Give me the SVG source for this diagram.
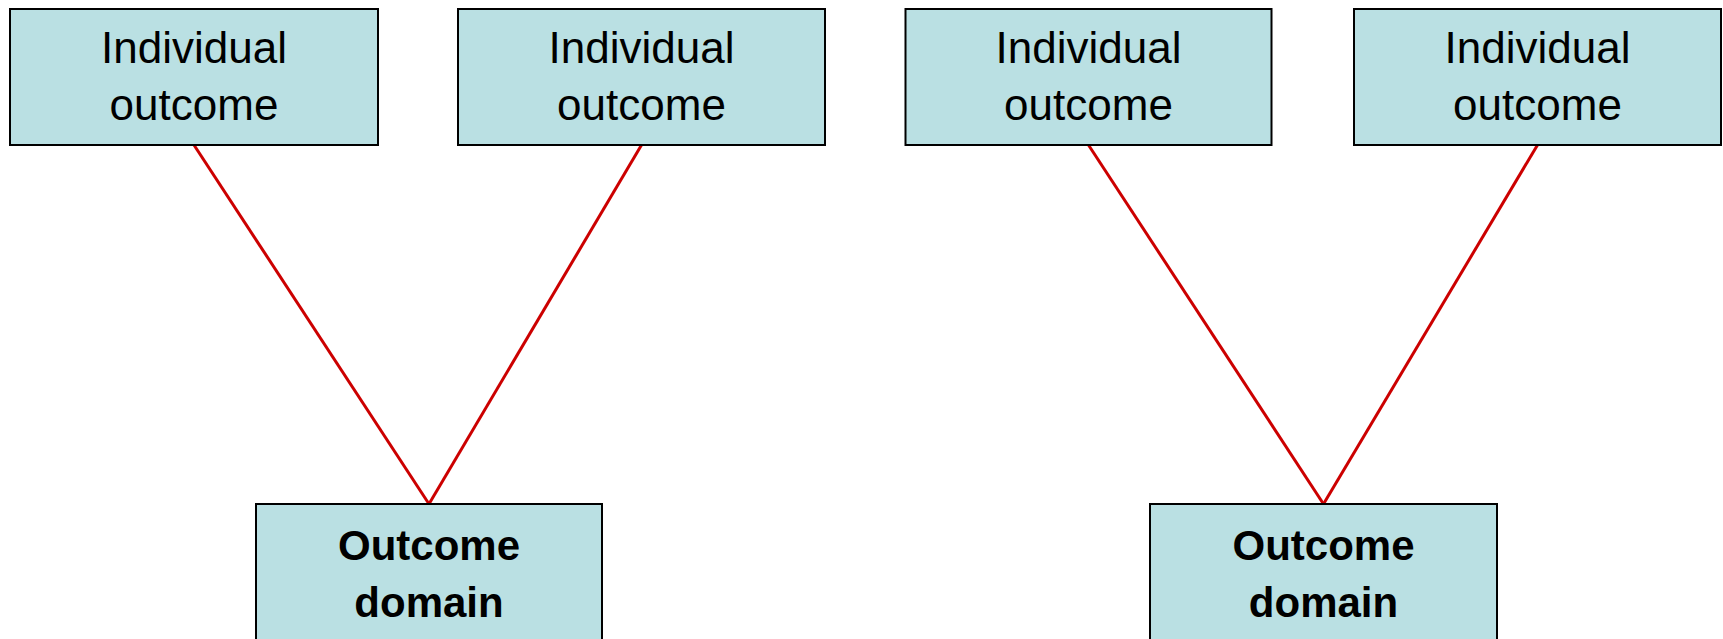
<svg xmlns="http://www.w3.org/2000/svg" width="1723" height="639" viewBox="0 0 1723 639">
<style>
.box{fill:#BAE0E3;stroke:#000;stroke-width:2}
.t{font-family:"Liberation Sans",Arial,sans-serif;font-size:44px;fill:#000;text-anchor:middle}
.b{font-weight:bold;font-size:42px}
.c{stroke:#CC0000;stroke-width:3;fill:none}
</style>
<rect width="1723" height="639" fill="#fff"/>
<g id="connectors">
<line class="c" x1="194" y1="145" x2="429" y2="504"/>
<line class="c" x1="641.5" y1="145" x2="429" y2="504"/>
<line class="c" x1="1088.5" y1="145" x2="1323.5" y2="504"/>
<line class="c" x1="1537.5" y1="145" x2="1323.5" y2="504"/>
</g>
<g id="n1"><rect class="box" x="10" y="9" width="368" height="136"/><text class="t" x="194" y="63">Individual</text><text class="t" x="194" y="120">outcome</text></g>
<g id="n2"><rect class="box" x="458" y="9" width="367" height="136"/><text class="t" x="641.5" y="63">Individual</text><text class="t" x="641.5" y="120">outcome</text></g>
<g id="n3"><rect class="box" x="905.5" y="9" width="366" height="136"/><text class="t" x="1088.5" y="63">Individual</text><text class="t" x="1088.5" y="120">outcome</text></g>
<g id="n4"><rect class="box" x="1354" y="9" width="367" height="136"/><text class="t" x="1537.5" y="63">Individual</text><text class="t" x="1537.5" y="120">outcome</text></g>
<g id="d1"><rect class="box" x="256" y="504" width="346" height="145"/><text class="t b" x="429" y="560">Outcome</text><text class="t b" x="429" y="617">domain</text></g>
<g id="d2"><rect class="box" x="1150" y="504" width="347" height="145"/><text class="t b" x="1323.5" y="560">Outcome</text><text class="t b" x="1323.5" y="617">domain</text></g>
</svg>
